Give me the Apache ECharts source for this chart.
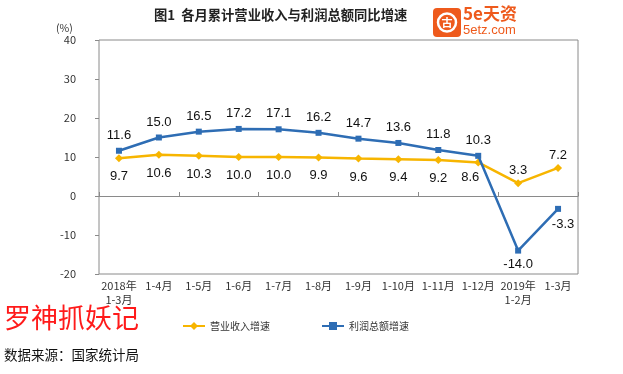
<!DOCTYPE html>
<html><head><meta charset="utf-8">
<script src="https://cdn.jsdelivr.net/npm/echarts@6/dist/echarts.min.js"></script>
<style>html,body{margin:0;padding:0;background:#fff}#c{width:623px;height:374px}</style>
</head><body><div id="c"></div>
<script>
const categories = ["2018年\n1-3月","1-4月","1-5月","1-6月","1-7月","1-8月","1-9月","1-10月","1-11月","1-12月","2019年\n1-2月","1-3月"];
const revenueGrowth = [9.7, 10.6, 10.3, 10.0, 10.0, 9.9, 9.6, 9.4, 9.2, 8.6, 3.3, 7.2];
const profitGrowth = [11.6, 15.0, 16.5, 17.2, 17.1, 16.2, 14.7, 13.6, 11.8, 10.3, -14.0, -3.3];
const seriesNames = ["营业收入增速", "利润总额增速"];
const yTicks = {min: -20, max: 40, step: 10};

const YEL = '#F7B500', BLU = '#2E6DB4';
const lblFont = {fontFamily: 'Liberation Sans, Arial, sans-serif', fontSize: 13, color: '#111'};
const cjk = '"Noto Sans CJK SC", sans-serif';

const revData = revenueGrowth.map((v, i) => {
  const d = {value: v};
  if (i >= 10) d.label = {position: 'top', distance: 2};
  if (i === 9) d.label = {position: 'bottom', distance: 8, offset: [-8, -4]};
  return d;
});
const profData = profitGrowth.map((v, i) => {
  const d = {value: v};
  if (i === 10) d.label = {position: 'bottom', distance: 4};
  if (i === 11) d.label = {position: 'bottom', distance: 6, offset: [5, 0]};
  return d;
});

const chart = echarts.init(document.getElementById('c'));
chart.setOption({
  animation: false,
  backgroundColor: '#fff',
  grid: {left: 99, right: 45, top: 40, bottom: 100, show: true, borderColor: '#8a8a8a', borderWidth: 1, backgroundColor: 'transparent'},
  xAxis: [{
    type: 'category', data: categories, boundaryGap: true,
    axisLine: {onZero: true, lineStyle: {color: '#8a8a8a', width: 1.2}},
    axisTick: {show: true, inside: true, length: 4, lineStyle: {color: '#8a8a8a'}},
    axisLabel: {show: false}
  }, {
    type: 'category', data: categories, position: 'bottom', boundaryGap: true,
    axisLine: {show: false, onZero: false}, axisTick: {show: false},
    axisLabel: {show: true, interval: 0, margin: 5, fontFamily: cjk, fontSize: 11, color: '#333', lineHeight: 14}
  }],
  yAxis: {
    type: 'value', min: yTicks.min, max: yTicks.max, interval: yTicks.step,
    axisLine: {show: false}, splitLine: {show: false},
    axisTick: {show: true, length: 4, lineStyle: {color: '#8a8a8a'}},
    axisLabel: {margin: 23, fontFamily: cjk, fontSize: 11, color: '#333'}
  },
  legend: {
    left: 177, top: 316, itemGap: 51, itemWidth: 22, itemHeight: 10,
    textStyle: {fontFamily: cjk, fontSize: 10, color: '#333'},
    data: seriesNames
  },
  series: [{
    name: seriesNames[0], type: 'line', data: revData, xAxisIndex: 0,
    symbol: 'diamond', symbolSize: 8, color: YEL,
    lineStyle: {color: YEL, width: 2.5}, itemStyle: {color: YEL},
    label: Object.assign({show: true, position: 'bottom', distance: 8, formatter: p => p.value.toFixed(1)}, lblFont),
    z: 3
  }, {
    name: seriesNames[1], type: 'line', data: profData, xAxisIndex: 0,
    symbol: 'rect', symbolSize: 6, color: BLU,
    lineStyle: {color: BLU, width: 2.5}, itemStyle: {color: BLU},
    label: Object.assign({show: true, position: 'top', distance: 6, formatter: p => p.value.toFixed(1)}, lblFont),
    z: 4
  }],
  graphic: [
    {type: 'text', left: 154, top: 8, style: {text: '图1  各月累计营业收入与利润总额同比增速', font: 'bold 13.3px "Noto Sans CJK SC", sans-serif', fill: '#222'}},
    {type: 'text', left: 56, top: 23, style: {text: '(%)', font: '10.5px "Noto Sans CJK SC", sans-serif', fill: '#333'}},
    {type: 'rect', shape: {x: 433, y: 8, width: 28, height: 29, r: 4}, style: {fill: '#EE5A1C'}},
    {type: 'circle', shape: {cx: 447, cy: 22.5, r: 9}, style: {fill: 'none', stroke: '#fff', lineWidth: 2.5}},
    {type: 'text', x: 447, y: 22.5, style: {text: '古', font: 'bold 11px "Noto Sans CJK SC"', fill: '#fff', align: 'center', verticalAlign: 'middle'}},
    {type: 'text', left: 463, top: 5, style: {text: '5e天资', font: 'bold 17px "Noto Sans CJK SC", sans-serif', fill: '#EE5A1C'}},
    {type: 'text', left: 463, top: 24, style: {text: '5etz.com', font: '13px "Liberation Sans", Arial, sans-serif', fill: '#EE5A1C'}},
    {type: 'text', left: 4, top: 304, style: {text: '罗神抓妖记', font: '27px "Noto Sans CJK SC", sans-serif', fill: '#FF1A1A'}},
    {type: 'text', left: 4, top: 348, style: {text: '数据来源：国家统计局', font: '13.5px "Noto Sans CJK SC", sans-serif', fill: '#111'}}
  ]
});
</script></body></html>
